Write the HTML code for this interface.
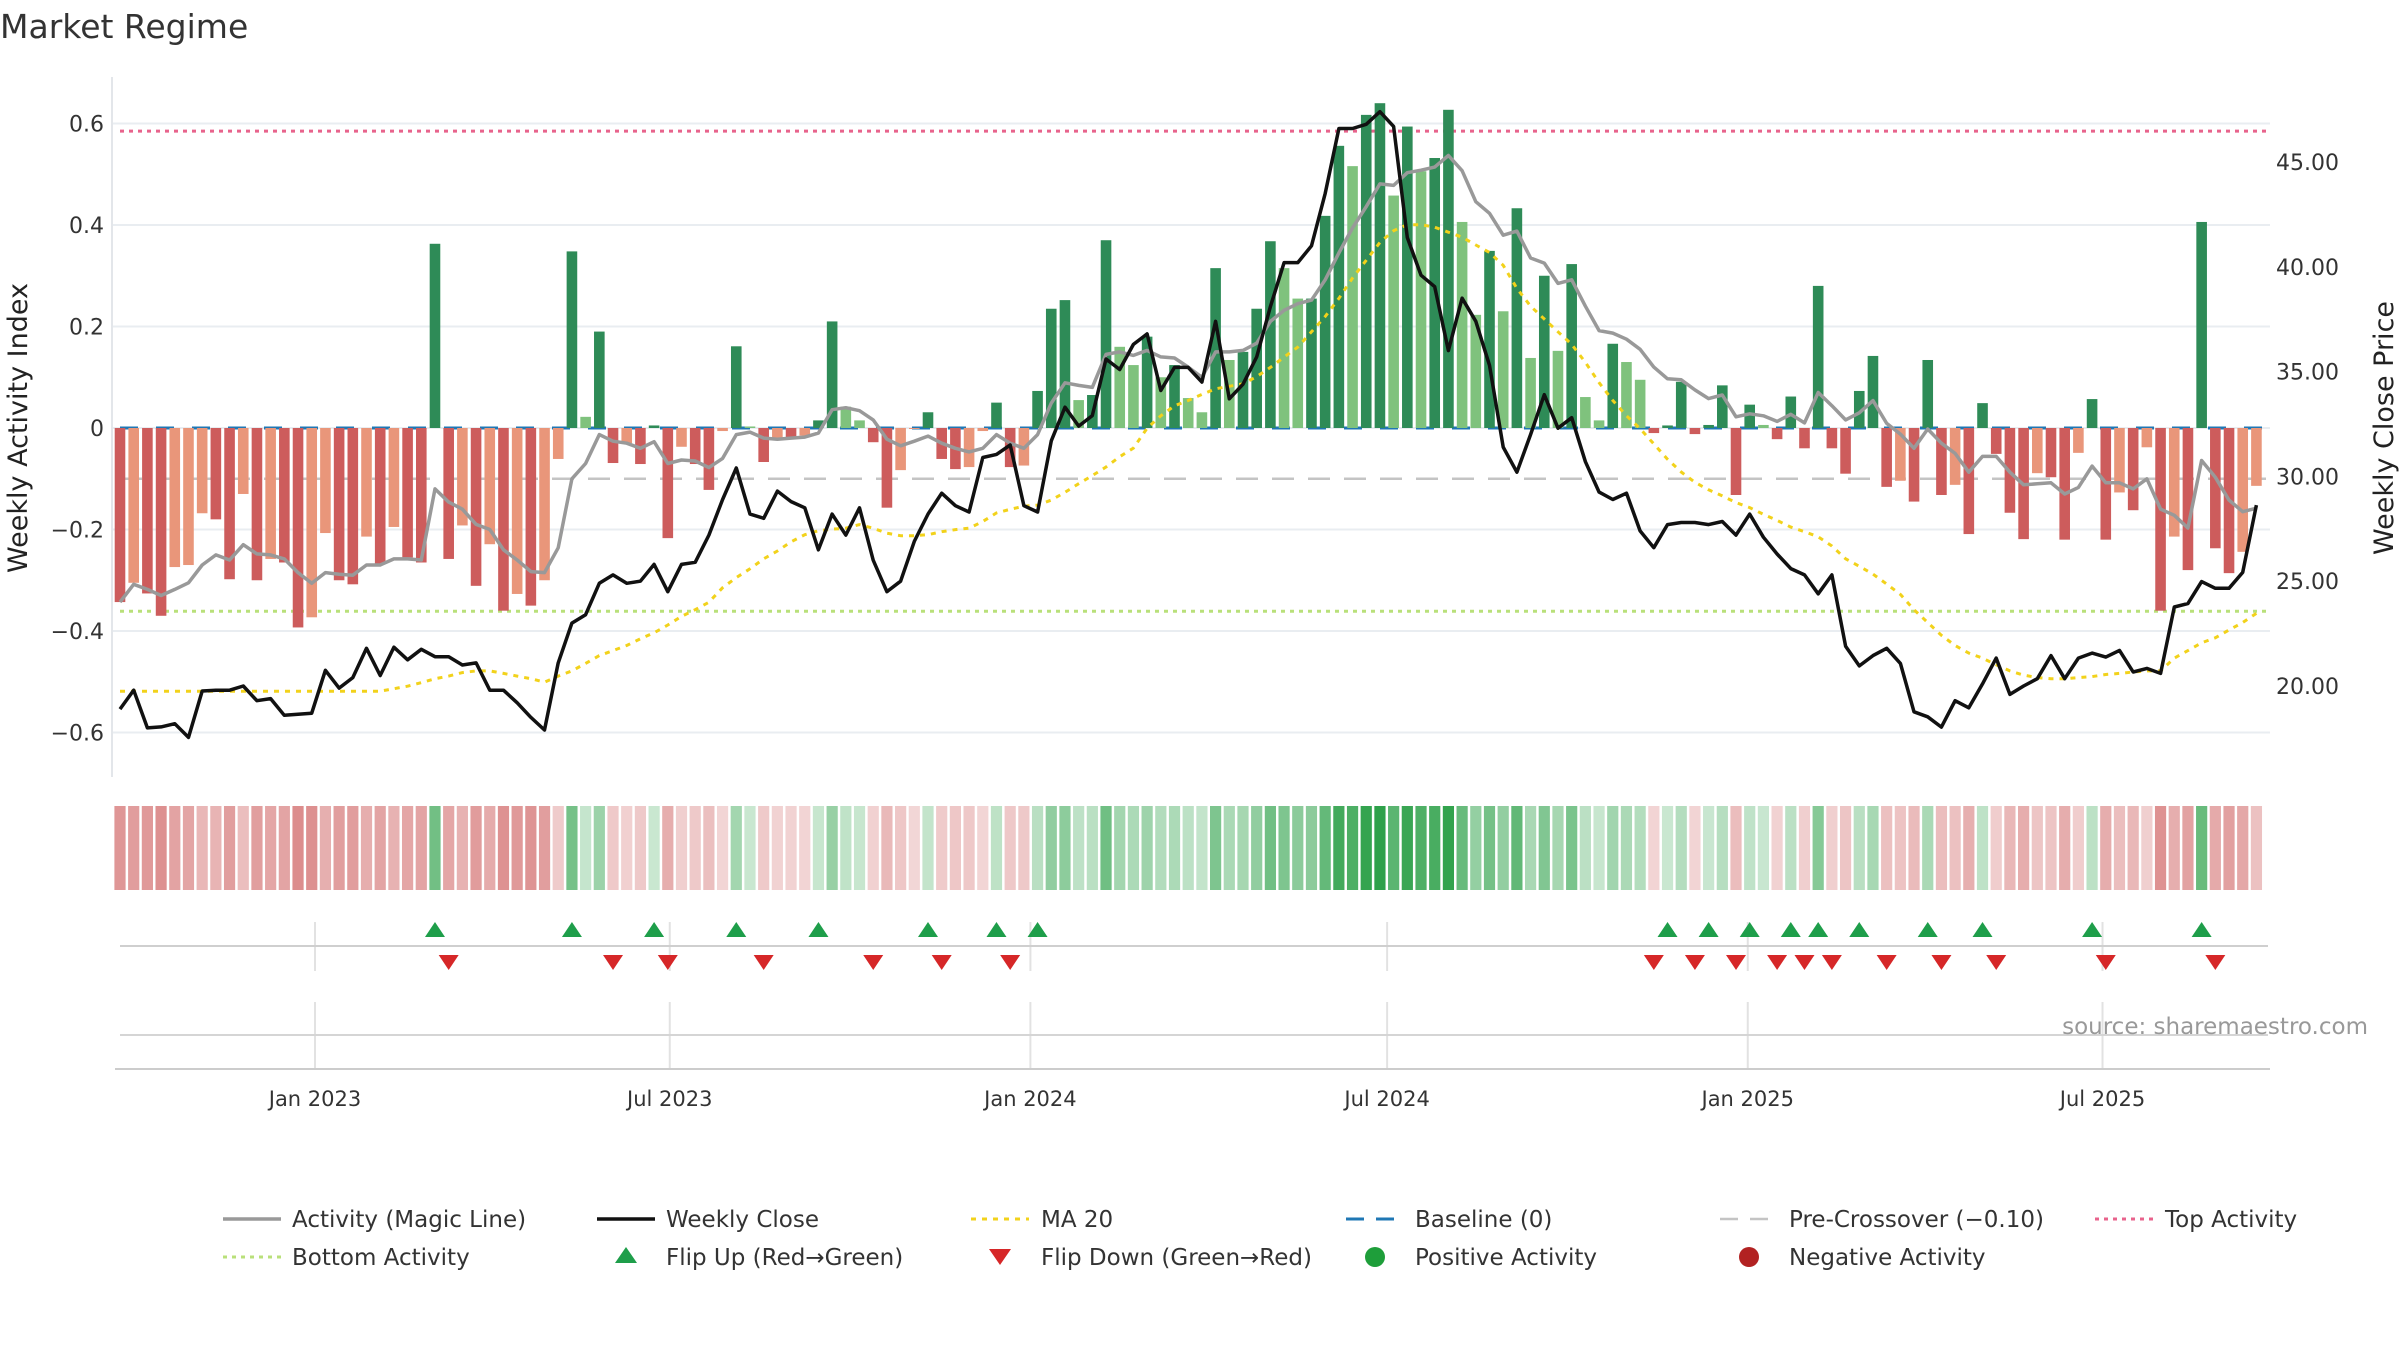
<!DOCTYPE html>
<html><head><meta charset="utf-8"><title>Market Regime</title>
<style>
html,body{margin:0;padding:0;background:#fff;}
svg{display:block;font-family:"DejaVu Sans","Liberation Sans",sans-serif;}
</style></head>
<body>
<svg id="chart" width="2400" height="1350" viewBox="0 0 2400 1350" xmlns="http://www.w3.org/2000/svg">
<rect x="0" y="0" width="2400" height="1350" fill="#fff"/>
<text x="0" y="38" font-size="33" fill="#333">Market Regime</text>
<g id="main" transform="translate(0,-3)"><g id="grid"></g><g id="refs"></g><g id="bars"></g><g id="lines"></g><g id="axes"></g></g>
<g transform="translate(0,-5)"><g id="strip"></g></g>
<g transform="translate(0,-6)"><g id="flips"></g><g id="xaxis"></g><g id="legend"></g></g>
<text x="2368" y="1034" font-size="23" fill="#999" text-anchor="end">source: sharemaestro.com</text>
</svg>
<script>
const activity=[-0.343,-0.305,-0.326,-0.37,-0.274,-0.27,-0.168,-0.18,-0.298,-0.13,-0.30,-0.258,-0.265,-0.393,-0.373,-0.207,-0.30,-0.308,-0.214,-0.268,-0.195,-0.255,-0.265,0.363,-0.258,-0.192,-0.311,-0.229,-0.36,-0.327,-0.35,-0.30,-0.061,0.348,0.022,0.19,-0.069,-0.03,-0.071,0.005,-0.217,-0.037,-0.071,-0.122,-0.006,0.161,0.003,-0.067,-0.02,-0.02,-0.015,0.015,0.21,0.042,0.015,-0.028,-0.157,-0.083,-0.002,0.031,-0.061,-0.081,-0.077,-0.006,0.05,-0.077,-0.074,0.073,0.235,0.252,0.055,0.065,0.37,0.16,0.124,0.18,0.10,0.124,0.059,0.031,0.315,0.134,0.15,0.235,0.368,0.315,0.255,0.255,0.418,0.556,0.516,0.617,0.64,0.458,0.594,0.506,0.532,0.627,0.406,0.223,0.349,0.23,0.433,0.138,0.30,0.152,0.323,0.061,0.015,0.166,0.13,0.095,-0.01,0.005,0.091,-0.012,0.006,0.084,-0.132,0.046,0.006,-0.022,0.062,-0.04,0.28,-0.04,-0.09,0.073,0.142,-0.116,-0.104,-0.145,0.134,-0.132,-0.112,-0.209,0.049,-0.051,-0.167,-0.219,-0.089,-0.097,-0.22,-0.049,0.057,-0.22,-0.127,-0.162,-0.038,-0.36,-0.214,-0.28,0.406,-0.237,-0.286,-0.244,-0.114];
const magicLine=[-0.343,-0.308,-0.318,-0.33,-0.318,-0.305,-0.27,-0.25,-0.26,-0.23,-0.248,-0.25,-0.258,-0.285,-0.306,-0.285,-0.288,-0.29,-0.27,-0.27,-0.258,-0.258,-0.26,-0.12,-0.146,-0.16,-0.19,-0.2,-0.24,-0.26,-0.283,-0.285,-0.236,-0.1,-0.07,-0.013,-0.026,-0.03,-0.04,-0.027,-0.07,-0.063,-0.065,-0.078,-0.06,-0.013,-0.008,-0.02,-0.022,-0.02,-0.018,-0.01,0.036,0.04,0.034,0.016,-0.022,-0.035,-0.026,-0.016,-0.03,-0.04,-0.047,-0.04,-0.013,-0.03,-0.04,-0.013,0.049,0.089,0.084,0.08,0.145,0.15,0.143,0.153,0.14,0.138,0.12,0.1,0.15,0.15,0.153,0.167,0.21,0.232,0.245,0.252,0.292,0.345,0.394,0.436,0.481,0.478,0.503,0.508,0.514,0.537,0.507,0.446,0.423,0.38,0.388,0.335,0.325,0.285,0.292,0.24,0.192,0.187,0.175,0.155,0.12,0.097,0.095,0.075,0.058,0.065,0.022,0.028,0.024,0.013,0.027,0.01,0.07,0.044,0.016,0.03,0.054,0.009,-0.012,-0.04,-0.002,-0.03,-0.05,-0.087,-0.056,-0.056,-0.087,-0.112,-0.11,-0.108,-0.13,-0.117,-0.075,-0.108,-0.108,-0.12,-0.1,-0.16,-0.172,-0.197,-0.064,-0.097,-0.142,-0.165,-0.158];
const weeklyClose=[18.9,19.8,18.0,18.05,18.2,17.55,19.76,19.8,19.8,20.0,19.3,19.4,18.6,18.65,18.7,20.75,19.9,20.4,21.8,20.5,21.85,21.25,21.75,21.4,21.4,21.0,21.1,19.8,19.8,19.2,18.5,17.9,21.1,23.0,23.4,24.9,25.3,24.9,25.0,25.8,24.5,25.8,25.9,27.2,28.9,30.4,28.2,28.0,29.3,28.8,28.5,26.5,28.2,27.2,28.5,26.0,24.5,25.0,26.9,28.2,29.2,28.6,28.3,30.9,31.05,31.5,28.6,28.3,31.7,33.3,32.4,32.9,35.6,35.1,36.3,36.8,34.1,35.2,35.2,34.5,37.4,33.7,34.4,35.7,38.1,40.2,40.2,41.0,43.5,46.6,46.6,46.8,47.4,46.7,41.4,39.6,39.05,36.0,38.5,37.4,35.3,31.4,30.2,32.0,33.9,32.3,32.8,30.7,29.25,28.9,29.2,27.4,26.6,27.7,27.8,27.8,27.7,27.85,27.2,28.2,27.1,26.3,25.6,25.3,24.4,25.3,21.9,20.96,21.45,21.8,21.08,18.77,18.53,18.04,19.3,18.96,20.1,21.33,19.6,20.0,20.35,21.45,20.35,21.33,21.57,21.38,21.7,20.67,20.84,20.6,23.77,23.93,24.98,24.66,24.66,25.42,28.63];
const ma20=[19.75,19.75,19.75,19.75,19.75,19.75,19.75,19.75,19.75,19.75,19.75,19.75,19.75,19.75,19.75,19.75,19.75,19.75,19.75,19.75,19.87,19.99,20.16,20.35,20.47,20.64,20.72,20.72,20.6,20.47,20.35,20.18,20.47,20.72,21.08,21.45,21.69,21.93,22.25,22.54,22.91,23.32,23.64,24.0,24.69,25.17,25.59,26.07,26.44,26.88,27.22,27.41,27.48,27.53,27.7,27.53,27.29,27.17,27.17,27.22,27.36,27.46,27.53,27.85,28.26,28.43,28.58,28.63,28.87,29.24,29.65,30.04,30.45,30.94,31.35,32.3,32.89,33.37,33.62,33.91,34.18,34.3,34.42,34.76,35.2,35.69,36.17,36.9,37.63,38.49,39.46,40.31,41.16,41.72,42.01,42.01,41.89,41.65,41.41,41.04,40.68,40.07,38.97,38.12,37.51,36.9,36.3,35.44,34.47,33.62,32.89,32.28,31.55,30.82,30.21,29.72,29.36,29.07,28.75,28.51,28.19,27.9,27.58,27.36,27.12,26.68,26.07,25.71,25.34,24.86,24.37,23.64,23.03,22.42,21.93,21.57,21.33,21.01,20.72,20.52,20.4,20.35,20.35,20.4,20.45,20.55,20.6,20.67,20.72,20.72,21.33,21.69,22.06,22.3,22.67,23.03,23.47];
const leftTicks=[0.6,0.4,0.2,0,-0.2,-0.4,-0.6];
const leftTickLabels=["0.6","0.4","0.2","0","\u22120.2","\u22120.4","\u22120.6"];
const rightTicks=[45,40,35,30,25,20];
const xTickDates=["2023-01-01","2023-07-01","2024-01-01","2024-07-01","2025-01-01","2025-07-01"];
const xTickLabels=["Jan 2023","Jul 2023","Jan 2024","Jul 2024","Jan 2025","Jul 2025"];
const topActivity=0.585, bottomActivity=-0.361, preCross=-0.10;

const NS="http://www.w3.org/2000/svg";
function mk(tag,attrs,parent){const e=document.createElementNS(NS,tag);for(const k in attrs)e.setAttribute(k,attrs[k]);if(parent)parent.appendChild(e);return e;}
const X0=120, DX=13.695;
function xOf(i){return X0+i*DX;}
function yA(v){return 431-v*507.5;}
function yP(p){return 689-(p-20)*20.96;}
const jan23=Date.UTC(2023,0,1);
function xDate(s){const d=new Date(s+"T00:00:00Z");return 315+(d-jan23)/(7*864e5)*13.72;}
const PL=112, PR=2270;
const g=id=>document.getElementById(id);

leftTicks.forEach((t,k)=>{
  const y=yA(t);
  const gl=mk('line',{x1:PL,x2:PR,y1:y,y2:y,stroke:'#e9edf1','stroke-width':2},g('grid'));
  
  
  const tl=mk('text',{x:104,y:y+8,'font-size':22,fill:'#333','text-anchor':'end'},g('axes'));
  tl.textContent=leftTickLabels[k];
  
  
});
rightTicks.forEach(t=>{
  const tl=mk('text',{x:2276,y:yP(t)+8,'font-size':22,fill:'#333'},g('axes'));
  tl.textContent=t.toFixed(2);
  
  
});
const spine=mk('line',{x1:PL,x2:PL,y1:80,y2:780,stroke:'#e3e6ea','stroke-width':2},g('axes'));


const yt=mk('text',{x:0,y:0,'font-size':27,fill:'#222','text-anchor':'middle',transform:'translate(27,431) rotate(-90)'},g('axes'));
yt.textContent='Weekly Activity Index';


const yt2=mk('text',{x:0,y:0,'font-size':27,fill:'#222','text-anchor':'middle',transform:'translate(2393,431) rotate(-90)'},g('axes'));
yt2.textContent='Weekly Close Price';



function ref(y,color,dash,w,name){const l=mk('line',{x1:120,x2:2268,y1:y,y2:y,stroke:color,'stroke-width':w,'stroke-dasharray':dash},g('refs'));}
ref(yA(topActivity),'#e8638c','4 5',3,'top-activity-line');
ref(yA(bottomActivity),'#b9e07a','4 5',3,'bottom-activity-line');
ref(yA(preCross),'#c4c4c4','22 14',2.5,'pre-crossover-line');

const colDG='#2e8b57', colLG='#7fc27d', colDR='#cd5c5c', colLR='#e9967a';
function barColor(i){const v=activity[i],p=i>0?activity[i-1]:v;
  if(v>=0) return (i===0||v>=p)?colDG:colLG;
  return (i===0||v<=p)?colDR:colLR;}
activity.forEach((v,i)=>{
  const y0=yA(0), y1=yA(v);
  const r=mk('rect',{x:xOf(i)-5.3,y:Math.min(y0,y1),width:10.6,height:Math.max(0.5,Math.abs(y1-y0)),fill:barColor(i)},g('bars'));
  
  
});
ref(yA(0),'#1f77b4','18 18',3,'baseline-zero-line');

function poly(arr,yf,stroke,w,dash,name){
  const pts=arr.map((v,i)=>xOf(i).toFixed(1)+','+yf(v).toFixed(1)).join(' ');
  const p=mk('polyline',{points:pts,fill:'none',stroke:stroke,'stroke-width':w,'stroke-linejoin':'round'},g('lines'));
  if(dash)p.setAttribute('stroke-dasharray',dash);
  
  
}
poly(ma20,yP,'#f2d21b',3,'5 6','ma20-line');
poly(magicLine,yA,'#999',3.5,null,'magic-line');
poly(weeklyClose,yP,'#111',3.5,null,'weekly-close-line');

activity.forEach((v,i)=>{
  const a=0.25+0.75*Math.min(Math.abs(v)/0.65,1);
  const c=v>=0?'rgb(44,160,72)':'rgb(205,92,92)';
  const r=mk('rect',{x:xOf(i)-5.6,y:811,width:11.2,height:84,fill:c,'fill-opacity':a.toFixed(3)},g('strip'));
  
  
});

xTickDates.forEach((d,k)=>{
  const x=xDate(d);
  const v1=mk('line',{x1:x,x2:x,y1:928,y2:977,stroke:'#e2e2e2','stroke-width':2},g('flips'));
  
  
  const v2=mk('line',{x1:x,x2:x,y1:1008,y2:1075,stroke:'#e2e2e2','stroke-width':2},g('xaxis'));
  
  
  const t=mk('text',{x:x,y:1112,'font-size':21,fill:'#333','text-anchor':'middle'},g('xaxis'));
  t.textContent=xTickLabels[k];
  
  
});
const fb=mk('line',{x1:120,x2:2268,y1:952,y2:952,stroke:'#cfcfcf','stroke-width':2},g('flips'));


const hb1=mk('line',{x1:120,x2:2268,y1:1041,y2:1041,stroke:'#d5d5d5','stroke-width':2},g('xaxis'));


const hb2=mk('line',{x1:115,x2:2270,y1:1075,y2:1075,stroke:'#cccccc','stroke-width':2},g('xaxis'));


for(let i=1;i<activity.length;i++){
  const a=activity[i-1], b=activity[i];
  if(a<0&&b>=0){
    const x=xOf(i);
    const t=mk('polygon',{points:`${x-10},943 ${x+10},943 ${x},928`,fill:'#1e9e4a'},g('flips'));
    
    
  } else if(a>=0&&b<0){
    const x=xOf(i);
    const t=mk('polygon',{points:`${x-10},961 ${x+10},961 ${x},976`,fill:'#d62728'},g('flips'));
    
    
  }
}

const L=g('legend');
function ltext(x,y,s){const t=mk('text',{x:x,y:y+8,'font-size':23,fill:'#333'},L);t.textContent=s;}
function lline(x,y,c,w,dash,name){const l=mk('line',{x1:x,x2:x+58,y1:y,y2:y,stroke:c,'stroke-width':w},L);if(dash)l.setAttribute('stroke-dasharray',dash);}
const R1=1225,R2=1263;
lline(223,R1,'#999',3.5,null,'legend-magic-line');ltext(292,R1,'Activity (Magic Line)');
lline(597,R1,'#111',3.5,null,'legend-weekly-close');ltext(666,R1,'Weekly Close');
lline(971,R1,'#f2d21b',3,'5 6','legend-ma20');ltext(1041,R1,'MA 20');
lline(1346,R1,'#1f77b4',3,'18 12','legend-baseline');ltext(1415,R1,'Baseline (0)');
lline(1720,R1,'#c4c4c4',2.5,'18 12','legend-pre-crossover');ltext(1789,R1,'Pre-Crossover (\u22120.10)');
lline(2095,R1,'#e8638c',3,'4 5','legend-top-activity');ltext(2165,R1,'Top Activity');
lline(223,R2,'#b9e07a',3,'4 5','legend-bottom-activity');ltext(292,R2,'Bottom Activity');
let m=mk('polygon',{points:`615,${R2+6} 637,${R2+6} 626,${R2-10}`,fill:'#1e9e4a'},L);ltext(666,R2,'Flip Up (Red\u2192Green)');
m=mk('polygon',{points:`989,${R2-8} 1011,${R2-8} 1000,${R2+8}`,fill:'#d62728'},L);ltext(1041,R2,'Flip Down (Green\u2192Red)');
m=mk('circle',{cx:1375,cy:R2,r:10,fill:'#1e9e3a'},L);ltext(1415,R2,'Positive Activity');
m=mk('circle',{cx:1749,cy:R2,r:10,fill:'#b22222'},L);ltext(1789,R2,'Negative Activity');
</script>
</body></html>
